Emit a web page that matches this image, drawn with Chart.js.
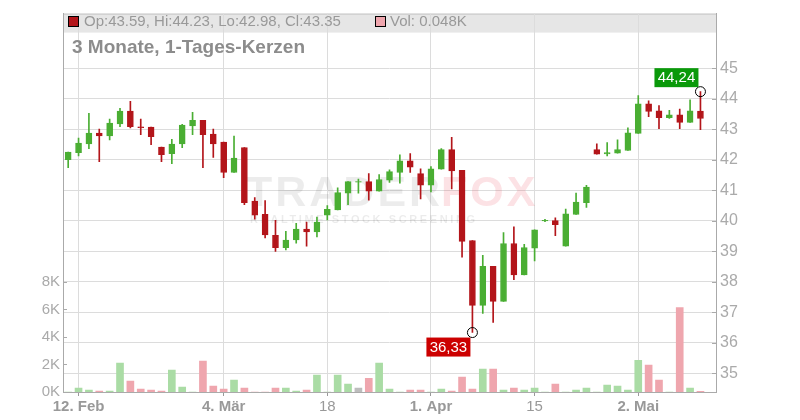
<!DOCTYPE html>
<html>
<head>
<meta charset="utf-8">
<script src="https://cdn.jsdelivr.net/npm/chart.js@4.4.1/dist/chart.umd.min.js"></script>
<style>
  html, body { margin: 0; padding: 0; background: #fff; }
  #wrap { width: 800px; height: 420px; }
</style>
</head>
<body>
<div id="wrap"><canvas id="kerzenChart" width="800" height="420"></canvas></div>
<script>
// Handelstage (letzter Platz bleibt leer)
const dates = [
  "09.02", "12.02", "13.02", "14.02", "15.02", "16.02", "19.02", "20.02", "21.02", "22.02",
  "23.02", "26.02", "27.02", "28.02", "01.03", "04.03", "05.03", "06.03", "07.03", "08.03",
  "11.03", "12.03", "13.03", "14.03", "15.03", "18.03", "19.03", "20.03", "21.03", "22.03",
  "25.03", "26.03", "27.03", "28.03", "29.03", "01.04", "02.04", "03.04", "04.04", "05.04",
  "08.04", "09.04", "10.04", "11.04", "12.04", "15.04", "16.04", "17.04", "18.04", "19.04",
  "22.04", "23.04", "26.04", "29.04", "30.04", "02.05", "03.05", "06.05", "07.05", "08.05",
  "09.05", "10.05", "13.05"
];
const tickLabels = { "12.02": "12. Feb", "04.03": "4. Mär", "18.03": "18", "01.04": "1. Apr", "15.04": "15", "02.05": "2. Mai" };
const boldTicks = ["12. Feb", "4. Mär", "1. Apr", "2. Mai"];

const opens = [
  42.00, 42.23, 42.52, 42.87, 42.78, 43.17, 43.59, 43.08, 43.07, 42.41,
  42.20, 42.52, 43.11, 43.29, 42.84, 42.58, 41.58, 42.40, 40.64, 40.21,
  39.52, 39.11, 39.37, 39.72, 39.63, 40.18, 40.35, 40.90, 41.26, 41.28,
  40.97, 41.33, 41.58, 41.96, 41.54, 41.16, 41.69, 42.33, 41.65, 39.35,
  37.22, 38.50, 37.35, 39.25, 38.22, 39.10, 39.99, 40.00, 39.16, 40.20,
  40.59, 42.33, 42.19, 42.21, 42.30, 42.86, 43.83, 43.60, 43.38, 43.47,
  43.22, 43.59
];
const highs = [
  42.25, 42.71, 43.52, 43.00, 43.33, 43.68, 43.91, 43.33, 43.07, 42.41,
  42.67, 43.16, 43.55, 43.29, 43.00, 42.58, 42.77, 42.40, 40.76, 40.66,
  40.01, 39.65, 39.91, 39.95, 40.12, 40.49, 41.08, 41.28, 41.36, 41.54,
  41.51, 41.67, 42.16, 42.20, 41.70, 41.77, 42.36, 42.73, 41.65, 39.35,
  38.86, 38.50, 39.61, 39.80, 39.22, 39.70, 40.04, 40.09, 40.38, 40.90,
  41.16, 42.52, 42.56, 42.65, 43.04, 44.10, 43.93, 43.77, 43.62, 43.66,
  43.96, 44.23
];
const lows = [
  41.74, 42.12, 42.36, 41.93, 42.65, 43.08, 43.04, 42.82, 42.49, 41.93,
  41.87, 42.39, 42.82, 41.74, 42.07, 41.41, 41.58, 40.52, 40.05, 39.43,
  38.99, 39.04, 39.26, 39.16, 39.47, 40.02, 40.35, 40.52, 40.90, 40.67,
  40.97, 41.25, 41.23, 41.58, 40.71, 40.94, 41.69, 41.04, 38.80, 36.33,
  36.96, 36.66, 37.35, 38.06, 38.22, 38.68, 39.97, 39.51, 39.16, 40.20,
  40.43, 42.18, 42.12, 42.21, 42.30, 42.86, 43.41, 43.02, 43.35, 43.02,
  43.22, 42.98
];
const closes = [
  42.25, 42.54, 42.87, 42.78, 43.20, 43.59, 43.08, 43.05, 42.75, 42.16,
  42.51, 43.13, 43.29, 42.82, 42.52, 41.58, 42.05, 40.59, 40.18, 39.53,
  39.11, 39.36, 39.72, 39.63, 39.95, 40.37, 40.92, 41.28, 41.28, 40.97,
  41.35, 41.61, 41.96, 41.75, 41.16, 41.70, 42.33, 41.63, 39.32, 37.22,
  38.50, 37.35, 39.25, 38.22, 39.12, 39.70, 40.01, 39.87, 40.22, 40.61,
  41.10, 42.18, 42.23, 42.33, 42.88, 43.83, 43.58, 43.38, 43.47, 43.22,
  43.60, 43.35
];
// Volumen in Tausend
const volumes = [
  0, 0.29, 0.14, 0.07, 0.07, 2.10, 0.79, 0.22, 0.14, 0.07,
  1.59, 0.36, 0, 2.24, 0.43, 0.22, 0.87, 0.29, 0, 0,
  0.29, 0.29, 0.07, 0.14, 1.23, 0, 1.23, 0.58, 0.29, 1.00,
  2.10, 0.22, 0, 0.14, 0.14, 0, 0.22, 0.07, 1.08, 0.22,
  1.66, 1.66, 0.14, 0.29, 0.14, 0.29, 0, 0.58, 0, 0.14,
  0.29, 0, 0.50, 0.43, 0.14, 2.31, 1.95, 0.87, 0, 6.14,
  0.29, 0.048
];
const priceTicks = [35, 36, 37, 38, 39, 40, 41, 42, 43, 44, 45];
const volumeTicks = [0, 2, 4, 6, 8];
// Beschriftung der Extremwerte, wie im Original
const highLabel = "44,24";
const lowLabel = "36,33";

const GREEN = "#4aae33";
const RED = "#b3151a";
const FONT = "'Liberation Sans', Arial, sans-serif";

const bodyColors = opens.map((o, i) => (closes[i] >= o ? GREEN : RED));
const volColors = closes.map((c, i) => {
  const prev = i > 0 ? closes[i - 1] : opens[0];
  if (c > prev) return "#aadca5";
  if (c < prev) return "#efa6ae";
  return "#bdbdbd";
});

const hiIdx = highs.indexOf(Math.max(...highs));
const loIdx = lows.indexOf(Math.min(...lows));
const last = opens.length - 1;

const overlay = {
  id: "overlay",
  beforeDraw(chart) {
    const { ctx, chartArea: a } = chart;
    ctx.save();
    ctx.fillStyle = "#e6e6e6";
    ctx.fillRect(a.left, a.top, a.right - a.left, 19);
    ctx.strokeStyle = "#c4c4c4";
    ctx.lineWidth = 1;
    ctx.beginPath();
    ctx.moveTo(a.left, a.top + 0.5);
    ctx.lineTo(a.right, a.top + 0.5);
    ctx.stroke();
    ctx.restore();
  },
  beforeDatasetsDraw(chart) {
    // Wasserzeichen
    const { ctx } = chart;
    ctx.save();
    ctx.textBaseline = "alphabetic";
    ctx.font = "bold 43px " + FONT;
    ctx.letterSpacing = "3px";
    ctx.fillStyle = "rgba(0,0,0,0.075)";
    ctx.fillText("TRADER", 246, 206);
    ctx.fillStyle = "rgba(235,60,80,0.15)";
    ctx.fillText("FOX", 441, 206);
    ctx.font = "bold 11px " + FONT;
    ctx.letterSpacing = "2.6px";
    ctx.fillStyle = "rgba(0,0,0,0.08)";
    ctx.fillText("REALTIME STOCK SCREENING", 250, 223);
    ctx.restore();
  },
  afterDraw(chart) {
    const { ctx, chartArea: a, scales } = chart;
    const x = scales.x, y = scales.y, yv = scales.yv;
    ctx.save();
    // kleine Striche innen an den Achsen
    ctx.strokeStyle = "#aaa";
    ctx.lineWidth = 1;
    priceTicks.forEach((t) => {
      const py = Math.round(y.getPixelForValue(t)) + 0.5;
      ctx.beginPath();
      ctx.moveTo(a.right - 4, py);
      ctx.lineTo(a.right, py);
      ctx.stroke();
    });
    volumeTicks.forEach((t) => {
      const py = Math.round(yv.getPixelForValue(t)) + 0.5;
      ctx.beginPath();
      ctx.moveTo(a.left, py);
      ctx.lineTo(a.left + 4, py);
      ctx.stroke();
    });

    // Kopfzeile
    ctx.textBaseline = "middle";
    ctx.font = "15px " + FONT;
    ctx.fillStyle = RED;
    ctx.fillRect(68, 16, 11, 11);
    ctx.strokeStyle = "#000";
    ctx.strokeRect(68.5, 16.5, 10, 10);
    ctx.fillStyle = "#999";
    ctx.fillText(
      "Op:" + opens[last].toFixed(2) + ", Hi:" + highs[last].toFixed(2) +
      ", Lo:" + lows[last].toFixed(2) + ", Cl:" + closes[last].toFixed(2), 84, 21.5);
    ctx.fillStyle = "#efa6ae";
    ctx.fillRect(375, 16, 11, 11);
    ctx.strokeRect(375.5, 16.5, 10, 10);
    ctx.fillStyle = "#999";
    ctx.fillText("Vol: " + volumes[last].toFixed(3) + "K", 390, 21.5);

    ctx.font = "bold 19px " + FONT;
    ctx.fillStyle = "#8c8c8c";
    ctx.fillText("3 Monate, 1-Tages-Kerzen", 72, 47.5);

    // Hoch / Tief Markierungen
    const mark = (idx, val, txt, color, above) => {
      const px = x.getPixelForValue(idx);
      const py = y.getPixelForValue(val);
      ctx.beginPath();
      ctx.arc(px, py, 5, 0, Math.PI * 2);
      ctx.strokeStyle = "#000";
      ctx.lineWidth = 1;
      ctx.stroke();
      ctx.font = "15px " + FONT;
      const w = 44, h = 19;
      const bx = px - 2 - w;
      const by = above ? py - 4.5 - h : py + 5;
      ctx.fillStyle = color;
      ctx.fillRect(bx, by, w, h);
      ctx.fillStyle = "#fff";
      ctx.textAlign = "center";
      ctx.fillText(txt, bx + w / 2, by + h / 2 + 0.5);
      ctx.textAlign = "left";
    };
    mark(hiIdx, highs[hiIdx], highLabel, "#0a990a", true);
    mark(loIdx, lows[loIdx], lowLabel, "#cc0000", false);
    ctx.restore();
  }
};

new Chart(document.getElementById("kerzenChart"), {
  type: "bar",
  data: {
    labels: dates,
    datasets: [
      {
        label: "Körper",
        data: opens.map((o, i) => [o, closes[i]]),
        backgroundColor: bodyColors,
        borderColor: bodyColors,
        borderWidth: 1,
        borderSkipped: false,
        barThickness: 6,
        grouped: false,
        yAxisID: "y",
        order: 1
      },
      {
        label: "Docht",
        data: lows.map((l, i) => [l, highs[i]]),
        backgroundColor: bodyColors,
        barThickness: 1,
        grouped: false,
        yAxisID: "y",
        order: 2
      },
      {
        label: "Volumen",
        data: volumes,
        backgroundColor: volColors,
        barThickness: 7,
        grouped: false,
        yAxisID: "yv",
        order: 3
      }
    ]
  },
  options: {
    responsive: false,
    animation: false,
    layout: { padding: { top: 11 } },
    plugins: { legend: { display: false }, tooltip: { enabled: false } },
    scales: {
      x: {
        offset: true,
        afterFit: (s) => { s.height = 28; },
        grid: {
          offset: false,
          color: (c) => (tickLabels[dates[c.index]] ? "#dcdcdc" : "rgba(0,0,0,0)"),
          tickColor: (c) => (tickLabels[dates[c.index]] ? "#999" : "rgba(0,0,0,0)"),
          tickLength: 4
        },
        border: { color: "#aaa" },
        ticks: {
          autoSkip: false,
          maxRotation: 0,
          padding: 2,
          color: "#999",
          font: (c) => {
            const t = tickLabels[dates[c.index]];
            return { family: FONT, size: 15, weight: boldTicks.includes(t) ? "bold" : "normal" };
          },
          callback: (v, i) => tickLabels[dates[i]] || ""
        }
      },
      y: {
        position: "right",
        min: 34.38,
        max: 46.79,
        afterBuildTicks: (s) => { s.ticks = priceTicks.map((v) => ({ value: v })); },
        afterFit: (s) => { s.width = 84; },
        grid: { color: "#dcdcdc", drawTicks: false },
        border: { color: "#aaa" },
        ticks: { padding: 4, color: "#aaa", font: { family: FONT, size: 16 } }
      },
      yv: {
        position: "left",
        min: 0,
        max: 27.5,
        afterBuildTicks: (s) => { s.ticks = volumeTicks.map((v) => ({ value: v })); },
        afterFit: (s) => { s.width = 63; },
        grid: { display: false, drawTicks: false },
        border: { color: "#aaa" },
        ticks: {
          padding: 3,
          color: "#aaa",
          font: { family: FONT, size: 15 },
          callback: (v) => v + "K"
        }
      }
    }
  },
  plugins: [overlay]
});
</script>
</body>
</html>
